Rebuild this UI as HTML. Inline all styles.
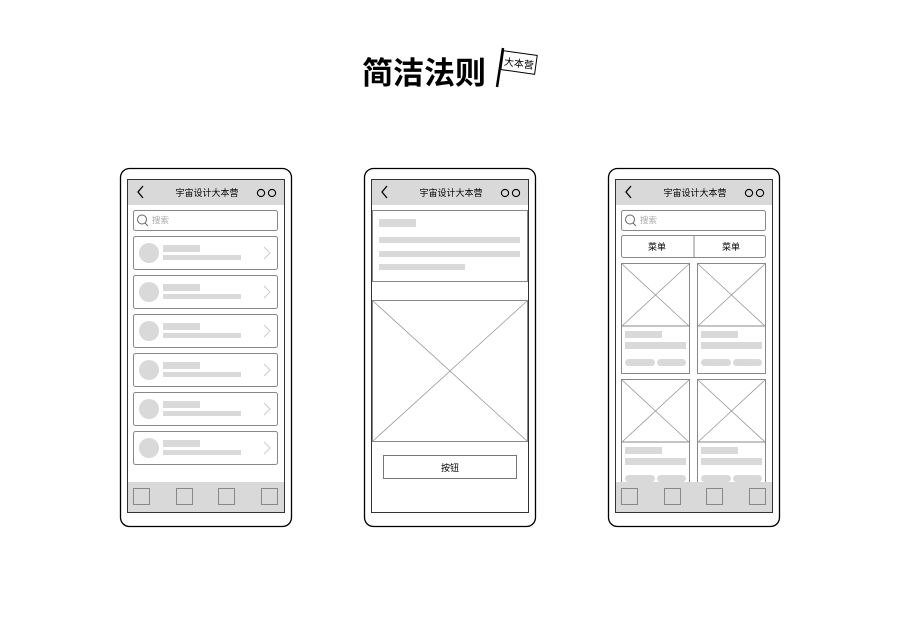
<!DOCTYPE html>
<html><head><meta charset="utf-8"><style>
html,body{margin:0;padding:0;background:#fff;}
svg{display:block;}
text{font-family:"Liberation Sans","Noto Sans CJK SC",sans-serif;}
</style></head><body>
<svg width="900" height="643" viewBox="0 0 900 643" xmlns="http://www.w3.org/2000/svg">
<defs>
<g id="phone">
  <rect x="120.5" y="168.5" width="171" height="358" rx="9" fill="#fff" stroke="#000" stroke-width="1.3"/>
  <rect x="127.5" y="179.5" width="157" height="333" fill="#fff" stroke="#333" stroke-width="1"/>
  <rect x="128" y="180" width="156" height="25" fill="#d9d9d9"/>
  <polyline points="143,186 138,192 143,198" fill="none" stroke="#000" stroke-width="1.3"/>
  <circle cx="261" cy="193" r="3.6" fill="none" stroke="#000" stroke-width="1.1"/>
  <circle cx="272" cy="193" r="3.6" fill="none" stroke="#000" stroke-width="1.1"/>
</g>
<g id="search">
  <rect x="133.5" y="210.5" width="144" height="20" rx="2" fill="#fff" stroke="#888"/>
  <circle cx="142" cy="219.5" r="4.5" fill="none" stroke="#666"/>
  <line x1="145" y1="223" x2="148" y2="226" stroke="#666"/>
</g>
<g id="item">
  <rect x="133.5" y="236.5" width="144" height="33" rx="2" fill="#fff" stroke="#888"/>
  <circle cx="149" cy="253" r="10" fill="#d9d9d9"/>
  <rect x="163" y="245" width="37" height="7" fill="#d9d9d9"/>
  <rect x="163" y="255" width="78" height="5" fill="#d9d9d9"/>
  <polyline points="264,247 270,253 264,259" fill="none" stroke="#ccc"/>
</g>
<g id="card">
  <rect x="621.5" y="263.5" width="68" height="110" fill="#fff" stroke="#888"/>
  <line x1="621.5" y1="326" x2="689.5" y2="326" stroke="#888"/>
  <line x1="622" y1="264" x2="689" y2="326" stroke="#999" stroke-width=".8"/>
  <line x1="689" y1="264" x2="622" y2="326" stroke="#999" stroke-width=".8"/>
  <rect x="625" y="331" width="37" height="7" fill="#d9d9d9"/>
  <rect x="625" y="342" width="61" height="7" fill="#d9d9d9"/>
  <rect x="625" y="359" width="30" height="7" rx="3.5" fill="#d9d9d9"/>
  <rect x="657" y="359" width="29" height="7" rx="3.5" fill="#d9d9d9"/>
</g>
<g id="bottom">
  <rect x="128" y="482" width="156" height="30" fill="#d9d9d9"/>
  <rect x="133.5" y="488.5" width="16" height="16" fill="none" stroke="#888"/>
  <rect x="176.5" y="488.5" width="16" height="16" fill="none" stroke="#888"/>
  <rect x="218.5" y="488.5" width="16" height="16" fill="none" stroke="#888"/>
  <rect x="261.5" y="488.5" width="16" height="16" fill="none" stroke="#888"/>
</g>
</defs>

<text x="362" y="84" font-size="31" font-weight="bold" fill="#000">简洁法则</text>
<line x1="497" y1="87" x2="503" y2="48" stroke="#000" stroke-width="2.5"/>
<g transform="rotate(8 519 63)">
  <rect x="502" y="53" width="34" height="19" fill="#fff" stroke="#000" stroke-width="1"/>
  <text x="519" y="67" font-size="10" text-anchor="middle" fill="#000">大本营</text>
</g>

<use href="#phone"/>
<text x="207" y="196" font-size="9" text-anchor="middle">宇宙设计大本营</text>
<use href="#search"/>
<text x="152" y="223" font-size="8.5" fill="#aaa">搜索</text>
<use href="#item"/>
<use href="#item" transform="translate(0,39)"/>
<use href="#item" transform="translate(0,78)"/>
<use href="#item" transform="translate(0,117)"/>
<use href="#item" transform="translate(0,156)"/>
<use href="#item" transform="translate(0,195)"/>
<use href="#bottom"/>

<use href="#phone" transform="translate(244,0)"/>
<text x="451" y="196" font-size="9" text-anchor="middle">宇宙设计大本营</text>
<rect x="372.5" y="210.5" width="155" height="71" fill="#fff" stroke="#888"/>
<rect x="379" y="219" width="37" height="8" fill="#d9d9d9"/>
<rect x="379" y="237" width="141" height="6" fill="#d9d9d9"/>
<rect x="379" y="251" width="141" height="6" fill="#d9d9d9"/>
<rect x="379" y="264" width="86" height="6" fill="#d9d9d9"/>
<rect x="372.5" y="300.5" width="155" height="141" fill="#fff" stroke="#888"/>
<line x1="373" y1="301" x2="527" y2="441" stroke="#999" stroke-width=".8"/>
<line x1="527" y1="301" x2="373" y2="441" stroke="#999" stroke-width=".8"/>
<rect x="383.5" y="455.5" width="133" height="23" fill="#fff" stroke="#777"/>
<text x="450" y="471" font-size="9" text-anchor="middle">按钮</text>

<use href="#phone" transform="translate(488,0)"/>
<text x="695" y="196" font-size="9" text-anchor="middle">宇宙设计大本营</text>
<use href="#search" transform="translate(488,0)"/>
<text x="640" y="223" font-size="8.5" fill="#aaa">搜索</text>
<rect x="621.5" y="235.5" width="144" height="22" rx="2" fill="#fff" stroke="#888"/>
<line x1="694" y1="235.5" x2="694" y2="257.5" stroke="#888"/>
<text x="657" y="250" font-size="9" text-anchor="middle">菜单</text>
<text x="731" y="250" font-size="9" text-anchor="middle">菜单</text>
<use href="#card"/>
<use href="#card" transform="translate(76,0)"/>
<use href="#card" transform="translate(0,116)"/>
<use href="#card" transform="translate(76,116)"/>
<use href="#bottom" transform="translate(488,0)"/>
</svg>
</body></html>
